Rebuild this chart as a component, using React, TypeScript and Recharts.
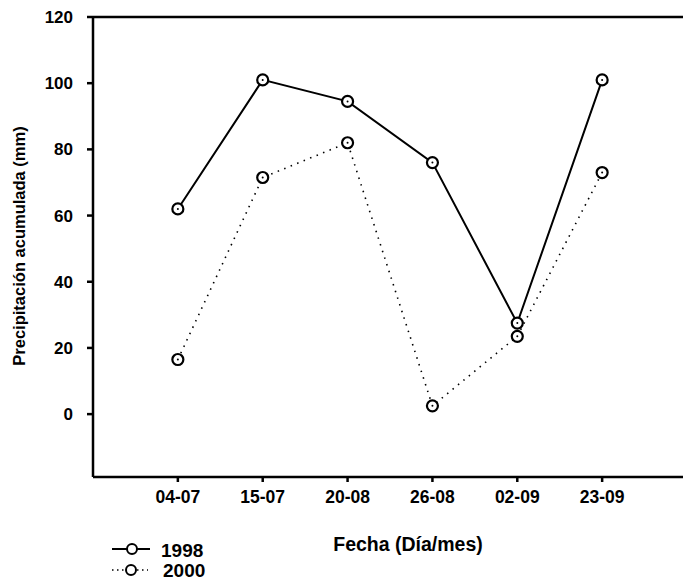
import { LineChart, Line, XAxis, YAxis, ReferenceLine } from 'recharts'

const fechas = ['04-07', '15-07', '20-08', '26-08', '02-09', '23-09']
const serie1998 = [62, 101, 94.5, 76, 27.5, 101]
const serie2000 = [16.5, 71.5, 82, 2.5, 23.5, 73]
const yTicks = [0, 20, 40, 60, 80, 100, 120]

const font = '"Liberation Sans", Arial, sans-serif'

const data = fechas.map((f, i) => ({
  x: i + 1,
  fecha: f,
  a1998: serie1998[i],
  a2000: serie2000[i],
}))

// hollow circle with a small centre dot, like the scanned markers
const Marker = (props: { cx?: number; cy?: number; index?: number }) => {
  const { cx, cy, index } = props
  if (cx == null || cy == null) return null
  return (
    <g key={`m-${index}`}>
      <circle cx={cx} cy={cy} r={5.5} fill="#fff" stroke="#000" strokeWidth={2.2} />
      <circle cx={cx} cy={cy} r={1} fill="#000" />
    </g>
  )
}

const YLabel = () => {
  const x = 19
  const y = 246
  return (
    <text
      x={x}
      y={y}
      transform={`rotate(-90 ${x} ${y})`}
      textAnchor="middle"
      dominantBaseline="central"
      fontFamily={font}
      fontWeight="bold"
      fontSize={16.5}
      fill="#000"
    >
      Precipitación acumulada (mm)
    </text>
  )
}

const XLabel = () => (
  <text x={408} y={544} textAnchor="middle" dominantBaseline="central" fontFamily={font} fontWeight="bold" fontSize={19.5} fill="#000">
    Fecha (Día/mes)
  </text>
)

const LegendBox = () => (
  <svg width={120} height={50} style={{ position: 'absolute', left: 108, top: 535 }}>
    <line x1={4} y1={14} x2={42} y2={14} stroke="#000" strokeWidth={2} />
    <circle cx={24} cy={14} r={5} fill="#fff" stroke="#000" strokeWidth={2} />
    <text x={53} y={15} dominantBaseline="central" fontFamily={font} fontWeight="bold" fontSize={19}>1998</text>
    <line x1={4} y1={35} x2={40} y2={35} stroke="#000" strokeWidth={1.5} strokeDasharray="1.5 3.5" />
    <circle cx={23} cy={35} r={5} fill="#fff" stroke="#000" strokeWidth={2} />
    <text x={55} y={35} dominantBaseline="central" fontFamily={font} fontWeight="bold" fontSize={19}>2000</text>
  </svg>
)

export default function App() {
  return (
    <div style={{ position: 'absolute', left: 0, top: 0, width: 683, height: 582, overflow: 'hidden', background: '#fff' }}>
      <LineChart width={690} height={582} data={data} margin={{ top: 17, right: 3, bottom: 0, left: 0 }}>
        <XAxis
          type="number"
          dataKey="x"
          domain={[0, 7]}
          ticks={[1, 2, 3, 4, 5, 6]}
          tickFormatter={(v: number) => fechas[v - 1]}
          height={105}
          tickSize={5}
          tickMargin={9}
          stroke="#000"
          strokeWidth={2.5}
          tick={{ fill: '#000', fontFamily: font, fontWeight: 'bold', fontSize: 17.5 }}
          label={<XLabel />}
        />
        <YAxis
          type="number"
          domain={[-19, 120]}
          allowDataOverflow
          ticks={yTicks}
          width={93}
          tickSize={6}
          tickMargin={14}
          stroke="#000"
          strokeWidth={2.5}
          tick={{ fill: '#000', fontFamily: font, fontWeight: 'bold', fontSize: 17 }}
          label={<YLabel />}
        />
        <ReferenceLine y={120} stroke="#000" strokeWidth={2.5} />
        <Line
          dataKey="a2000"
          stroke="#000"
          strokeWidth={1.6}
          strokeDasharray="1.5 5.5"
          dot={<Marker />}
          activeDot={false}
          isAnimationActive={false}
        />
        <Line
          dataKey="a1998"
          stroke="#000"
          strokeWidth={2}
          dot={<Marker />}
          activeDot={false}
          isAnimationActive={false}
        />
      </LineChart>
      <LegendBox />
    </div>
  )
}
